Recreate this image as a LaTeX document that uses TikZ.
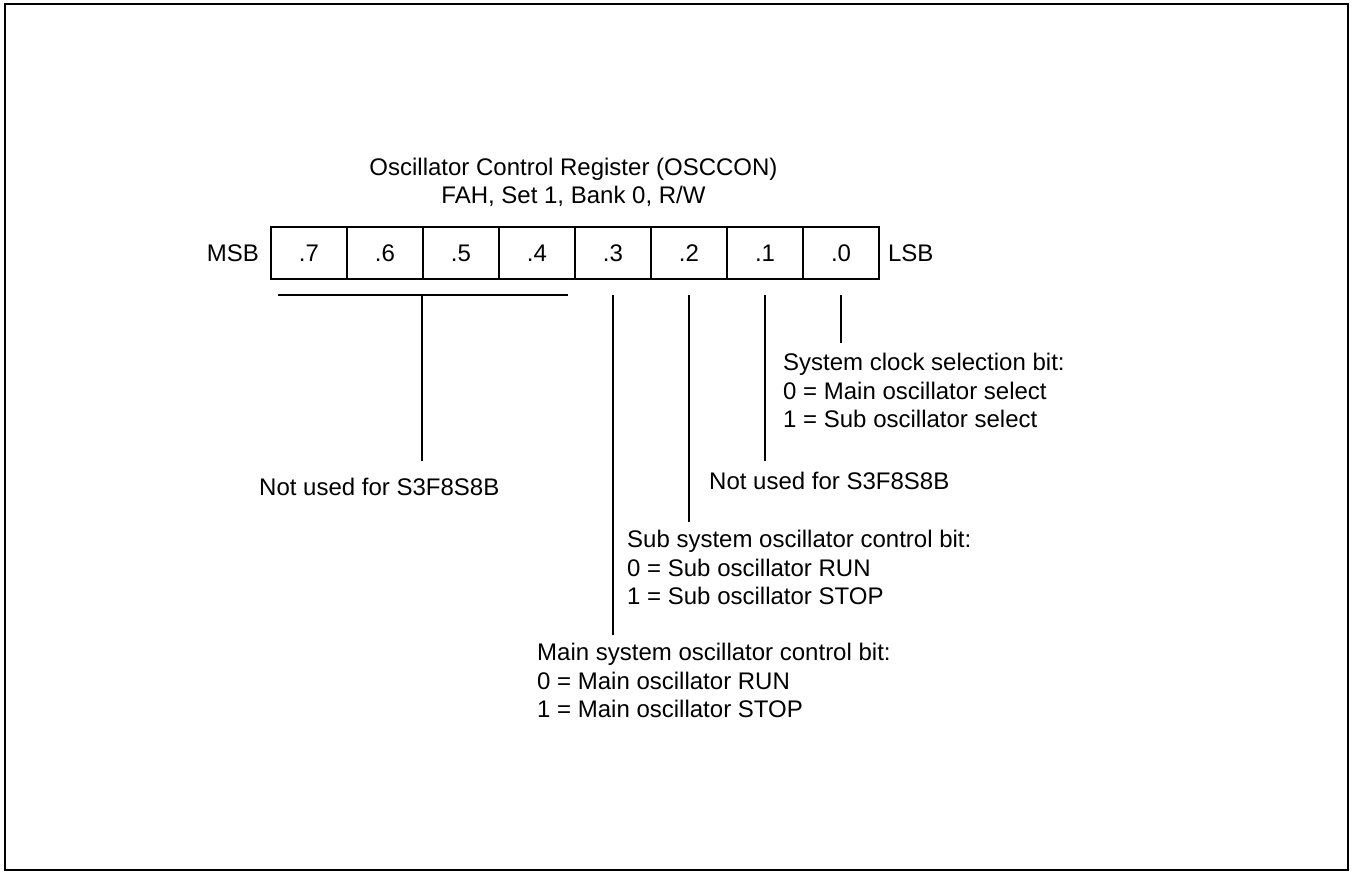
\documentclass[tikz,border=0pt]{standalone}
\usepackage{fontspec}
\setmainfont{Liberation Sans}
\begin{document}
\begin{tikzpicture}[x=1pt,y=-1pt,
  txt/.style={inner sep=0pt, font=\fontsize{24pt}{28.5pt}\selectfont},
  note/.style={txt, anchor=north west, align=left},
  cell/.style={draw, line width=1.6pt, minimum width=76pt, minimum height=52pt, inner sep=0pt, font=\fontsize{24pt}{28.5pt}\selectfont},
  lead/.style={line width=1.6pt}]
\useasboundingbox (0,0) rectangle (1355,872);
\draw[line width=2.2pt] (5,4.3) rectangle (1348,870.3);

% title
\node[txt, anchor=north, align=center] (title) at (573.5,157.5)
  {Oscillator Control Register (OSCCON)\\FAH, Set 1, Bank 0, R/W};

% register cells
\node[cell] (b7) at (309,253) {.7};
\node[cell] (b6) at (385,253) {.6};
\node[cell] (b5) at (461,253) {.5};
\node[cell] (b4) at (537,253) {.4};
\node[cell] (b3) at (613,253) {.3};
\node[cell] (b2) at (689,253) {.2};
\node[cell] (b1) at (765,253) {.1};
\node[cell] (b0) at (841,253) {.0};
\node[txt, anchor=east] (msb) at ([xshift=-11pt]b7.west) {MSB};
\node[txt, anchor=west] (lsb) at ([xshift=8pt]b0.east) {LSB};

% notes
\node[note] (notA) at (259,478) {Not used for S3F8S8B};
\node[note] (notB) at (709,472) {Not used for S3F8S8B};
\node[note] (sysclk) at (783,353) {System clock selection bit:\\0 = Main oscillator select\\1 = Sub oscillator select};
\node[note] (subsys) at (627,530) {Sub system oscillator control bit:\\0 = Sub oscillator RUN\\1 = Sub oscillator STOP};
\node[note] (mainsys) at (537,643) {Main system oscillator control bit:\\0 = Main oscillator RUN\\1 = Main oscillator STOP};

% leaders
\coordinate (hl) at ([xshift=8pt]b7.south west |- 0,295);
\coordinate (hr) at ([xshift=-8pt]b4.south east |- 0,295);
\draw[lead] (hl) -- (hr);
\draw[lead, shorten >=17pt] (b5.south west |- hl) -- (b5.south west |- notA.north);
\draw[lead, shorten >=8pt] (b3.south |- hl) -- (b3.south |- mainsys.north);
\draw[lead, shorten >=8pt] (b2.south |- hl) -- (b2.south |- subsys.north);
\draw[lead, shorten >=11pt] (b1.south |- hl) -- (b1.south |- notB.north);
\draw[lead, shorten >=10pt] (b0.south |- hl) -- (b0.south |- sysclk.north);
\end{tikzpicture}
\end{document}
